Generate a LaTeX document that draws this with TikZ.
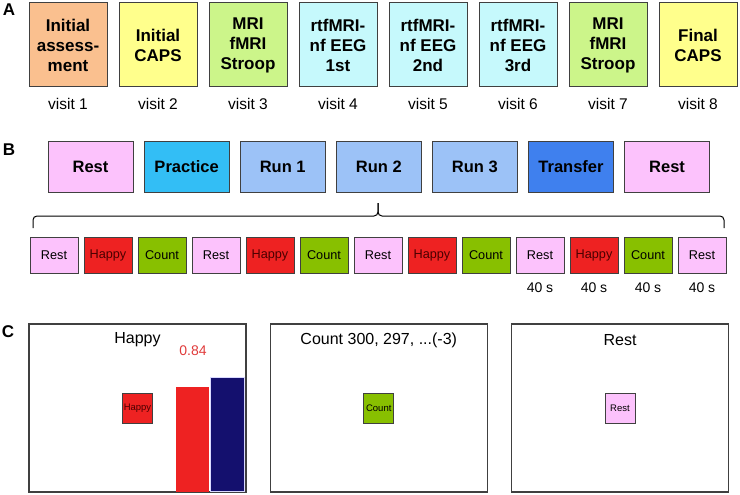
\documentclass[tikz,border=0pt]{standalone}
\usepackage{fontspec}
\setmainfont{Liberation Sans}
\usepackage{xcolor}
\usetikzlibrary{positioning}
\definecolor{orangeA}{HTML}{FAC08F}
\definecolor{yellowC}{HTML}{FFFF8C}
\definecolor{greenM}{HTML}{CCF58A}
\definecolor{cyanN}{HTML}{C6F9FC}
\definecolor{pinkR}{HTML}{FCC2FC}
\definecolor{cyanP}{HTML}{33BEF5}
\definecolor{blueR}{HTML}{9CC2F7}
\definecolor{blueT}{HTML}{3F80EE}
\definecolor{redH}{HTML}{EE2222}
\definecolor{greenC}{HTML}{88C000}
\definecolor{navyB}{HTML}{14106E}
\definecolor{darkH}{HTML}{4A0000}
\definecolor{redT}{HTML}{E03A3A}

\begin{document}
\begin{tikzpicture}[x=1pt, y=-1pt,
		visit/.style={draw=black!75, line width=1pt, minimum width=78pt, minimum height=84pt, align=center, font=\fontsize{17}{20}\selectfont\bfseries},
		session/.style={draw=black!75, line width=1pt, minimum width=85pt, minimum height=50pt, font=\fontsize{16.5}{19}\selectfont\bfseries},
		block/.style={draw=black!75, line width=0.8pt, minimum width=48pt, minimum height=36pt, font=\fontsize{12.7}{14}\selectfont},
		cue/.style={draw=black!75, line width=0.7pt, minimum width=30pt, minimum height=30pt, inner sep=0pt, font=\fontsize{9.5}{10}\selectfont},
		panel/.style={draw=black!75, line width=1.2pt, minimum width=217pt, minimum height=168pt},
		lab/.style={font=\fontsize{15.5}{17}\selectfont},
		panlab/.style={font=\fontsize{17}{19}\selectfont\bfseries}]
	% background and frame
	\useasboundingbox (0,0) rectangle (740,495);
	\node[panlab] (A) at (9,10) {A};
	\node[panlab] (B) at (9,150) {B};
	\node[panlab] (C) at (8,332) {C};
	% A: visits
	\foreach \lab/\col [count=\c, evaluate=\c as \xx using {68+90*(\c-1)}] in {{Initial\\assess-\\ment}/orangeA, {Initial\\CAPS}/yellowC, {MRI\\fMRI\\Stroop}/greenM, {rtfMRI-\\nf EEG\\1st}/cyanN, {rtfMRI-\\nf EEG\\2nd}/cyanN, {rtfMRI-\\nf EEG\\3rd}/cyanN, {MRI\\fMRI\\Stroop}/greenM, {Final\\CAPS}/yellowC}
	{
		\node[visit, fill=\col] (v\c) at (\xx,45) {\lab};
		\node[lab] (vl\c) at (\xx,104) {visit \c};
	}
	% B: sessions
	\foreach \lab/\col [count=\c, evaluate=\c as \xx using {90.5+96.1*(\c-1)}] in {Rest/pinkR, Practice/cyanP, Run 1/blueR, Run 2/blueR, Run 3/blueR, Transfer/blueT, Rest/pinkR}
	{
		\node[session, fill=\col] (s\c) at (\xx,167) {\lab};
	}
	\draw[line width=1pt, rounded corners=4pt] (33,228) -- (33,216) -- (378,216) -- (378,203);
	\draw[line width=1pt, rounded corners=4pt] (378,203) -- (378,216) -- (724,216) -- (724,228);
	\foreach \lab/\col/\tc [count=\c, evaluate=\c as \xx using {54+54*(\c-1)}] in {Rest/pinkR/black, Happy/redH/darkH, Count/greenC/black, Rest/pinkR/black, Happy/redH/darkH, Count/greenC/black, Rest/pinkR/black, Happy/redH/darkH, Count/greenC/black, Rest/pinkR/black, Happy/redH/darkH, Count/greenC/black, Rest/pinkR/black}
	{
		\node[block, fill=\col, text=\tc] (b\c) at (\xx,255) {\lab};
	}
	\foreach \c in {10,...,13}
	{
		\node[lab, font=\fontsize{14}{16}\selectfont, below=6pt of b\c] (t\c) {40 s};
	}
	% C: screens
	\foreach \ttl/\cuelab/\col/\tc [count=\c, evaluate=\c as \xx using {137.5+241.25*(\c-1)}] in {Happy/Happy/redH/darkH, {Count 300, 297, ...(-3)}/Count/greenC/black, Rest/Rest/pinkR/black}
	{
		\node[panel] (p\c) at (\xx,408) {};
		\node[lab, font=\fontsize{16}{18}\selectfont] (pt\c) at (\xx,340) {\ttl};
		\node[cue, fill=\col, text=\tc] (q\c) at (\xx,408) {\cuelab};
	}
	\fill[redH] (176,387) rectangle (209,492);
	\filldraw[fill=navyB, draw=blue!15, line width=0.8pt] (210,377) rectangle (244,491);
	\node[lab, font=\fontsize{14}{16}\selectfont, text=redT] (val) at (193,351) {0.84};
\end{tikzpicture}
\end{document}
